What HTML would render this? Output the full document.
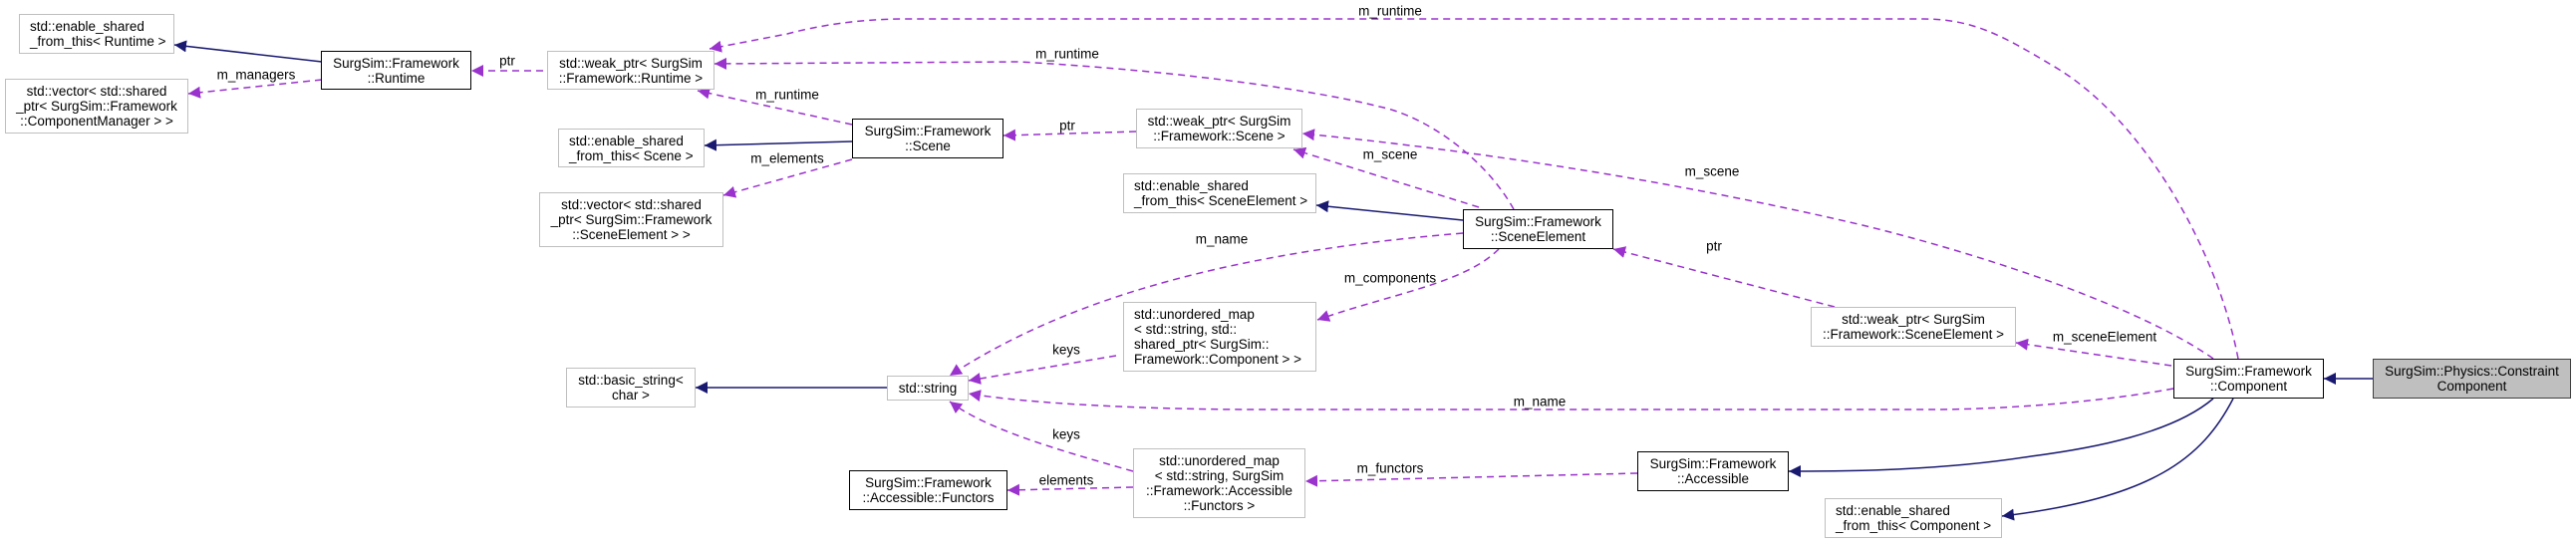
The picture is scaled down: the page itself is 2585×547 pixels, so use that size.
<!DOCTYPE html>
<html><head><meta charset="utf-8"><style>
body{margin:0;background:#fff;}
#c{position:relative;width:2585px;height:547px;overflow:hidden;font-family:"Liberation Sans",Arial,sans-serif;font-size:13.5px;color:#000;}
.b{position:absolute;box-sizing:border-box;border:1.5px solid #bfbfbf;background:#fff;display:flex;align-items:center;justify-content:center;text-align:center;line-height:15px;white-space:nowrap;}
.k{border:1.5px solid #000;}
.l{text-align:left;justify-content:flex-start;padding-left:10px;}
svg{position:absolute;left:0;top:0;}
svg text{font-family:"Liberation Sans",Arial,sans-serif;font-size:13.5px;text-anchor:middle;dominant-baseline:middle;}
</style></head><body><div id="c">
<svg width="2585" height="547">
<defs>
<marker id="p" markerUnits="userSpaceOnUse" markerWidth="14" markerHeight="12" refX="12" refY="6" orient="auto"><path d="M0,0L12,6L0,12z" fill="#9a32cd"/></marker>
<marker id="n" markerUnits="userSpaceOnUse" markerWidth="14" markerHeight="12" refX="12" refY="6" orient="auto"><path d="M0,0L12,6L0,12z" fill="#191970"/></marker>
</defs>
<g fill="none" stroke="#191970" stroke-width="1.5" marker-end="url(#n)">
<path d="M323,62L175,45"/>
<path d="M855,142L707,146"/>
<path d="M1468,221L1321,206"/>
<path d="M890,389L698,389"/>
<path d="M2221,400C2180,435 2100,450 2038,458C1950,472 1860,473 1795,473"/>
<path d="M2241,400C2210,460 2160,500 2009,518"/>
<path d="M2381,380L2332,380"/>
</g>
<g fill="none" stroke="#9a32cd" stroke-width="1.5" stroke-dasharray="7,5" marker-end="url(#p)">
<path d="M323,80L189,94"/>
<path d="M545,71L473,71"/>
<path d="M2246,360C2225,250 2150,118 2060,66C2010,36 1980,19 1930,19L910,19C860,19 820,26 790,34L712,49"/>
<path d="M1519,210C1490,158 1430,116 1384,107C1330,93 1200,72 1022,62L717,64"/>
<path d="M855,125L700,91"/>
<path d="M855,160L726,196"/>
<path d="M1140,132L1007,136"/>
<path d="M1484,208L1298,150"/>
<path d="M2221,360C2150,310 2000,258 1869,226C1750,198 1550,158 1307,134"/>
<path d="M1468,234C1300,248 1100,280 953,377"/>
<path d="M1504,250C1470,284 1400,294 1322,321"/>
<path d="M1120,357L972,382"/>
<path d="M1841,308L1619,250"/>
<path d="M2179,367L2023,344"/>
<path d="M2181,390C2100,405 2000,411 1940,411L1260,411C1150,411 1030,405 972,395"/>
<path d="M1137,473C1060,451 990,431 953,403"/>
<path d="M1137,489L1011,492"/>
<path d="M1643,475L1310,483"/>
</g>
<g>
<text x="509" y="62">ptr</text>
<text x="257" y="76">m_managers</text>
<text x="790" y="96">m_runtime</text>
<text x="790" y="160">m_elements</text>
<text x="1395" y="12">m_runtime</text>
<text x="1071" y="55">m_runtime</text>
<text x="1071" y="127">ptr</text>
<text x="1395" y="156">m_scene</text>
<text x="1718" y="173">m_scene</text>
<text x="1226" y="241">m_name</text>
<text x="1395" y="280">m_components</text>
<text x="1070" y="352">keys</text>
<text x="1545" y="404">m_name</text>
<text x="1070" y="437">keys</text>
<text x="1070" y="483">elements</text>
<text x="1395" y="471">m_functors</text>
<text x="1720" y="248">ptr</text>
<text x="2112" y="339">m_sceneElement</text>
</g>
</svg>
<div class="b l" style="left:19px;top:14px;width:156px;height:40px;">std::enable_shared<br>_from_this&lt; Runtime &gt;</div>
<div class="b" style="left:5px;top:79px;width:184px;height:55px;">std::vector&lt; std::shared<br>_ptr&lt; SurgSim::Framework<br>::ComponentManager &gt; &gt;</div>
<div class="b k" style="left:322px;top:51px;width:151px;height:39px;">SurgSim::Framework<br>::Runtime</div>
<div class="b" style="left:549px;top:51px;width:168px;height:39px;">std::weak_ptr&lt; SurgSim<br>::Framework::Runtime &gt;</div>
<div class="b l" style="left:560px;top:129px;width:147px;height:39px;">std::enable_shared<br>_from_this&lt; Scene &gt;</div>
<div class="b" style="left:541px;top:193px;width:185px;height:55px;">std::vector&lt; std::shared<br>_ptr&lt; SurgSim::Framework<br>::SceneElement &gt; &gt;</div>
<div class="b" style="left:568px;top:369px;width:130px;height:40px;">std::basic_string&lt;<br>char &gt;</div>
<div class="b k" style="left:855px;top:119px;width:152px;height:40px;">SurgSim::Framework<br>::Scene</div>
<div class="b" style="left:1140px;top:109px;width:167px;height:40px;">std::weak_ptr&lt; SurgSim<br>::Framework::Scene &gt;</div>
<div class="b l" style="left:1127px;top:174px;width:194px;height:40px;">std::enable_shared<br>_from_this&lt; SceneElement &gt;</div>
<div class="b k" style="left:1468px;top:210px;width:151px;height:40px;">SurgSim::Framework<br>::SceneElement</div>
<div class="b l" style="left:1127px;top:303px;width:194px;height:70px;">std::unordered_map<br>&lt; std::string, std::<br>shared_ptr&lt; SurgSim::<br>Framework::Component &gt; &gt;</div>
<div class="b" style="left:890px;top:377px;width:82px;height:25px;">std::string</div>
<div class="b" style="left:1137px;top:450px;width:173px;height:70px;">std::unordered_map<br>&lt; std::string, SurgSim<br>::Framework::Accessible<br>::Functors &gt;</div>
<div class="b k" style="left:852px;top:472px;width:159px;height:40px;">SurgSim::Framework<br>::Accessible::Functors</div>
<div class="b k" style="left:1643px;top:453px;width:152px;height:40px;">SurgSim::Framework<br>::Accessible</div>
<div class="b" style="left:1817px;top:308px;width:206px;height:40px;">std::weak_ptr&lt; SurgSim<br>::Framework::SceneElement &gt;</div>
<div class="b k" style="left:2181px;top:360px;width:151px;height:40px;">SurgSim::Framework<br>::Component</div>
<div class="b k" style="left:2381px;top:360px;width:199px;height:40px;background:#bfbfbf;border-color:#404040;">SurgSim::Physics::Constraint<br>Component</div>
<div class="b l" style="left:1831px;top:500px;width:178px;height:40px;">std::enable_shared<br>_from_this&lt; Component &gt;</div>
</div></body></html>
